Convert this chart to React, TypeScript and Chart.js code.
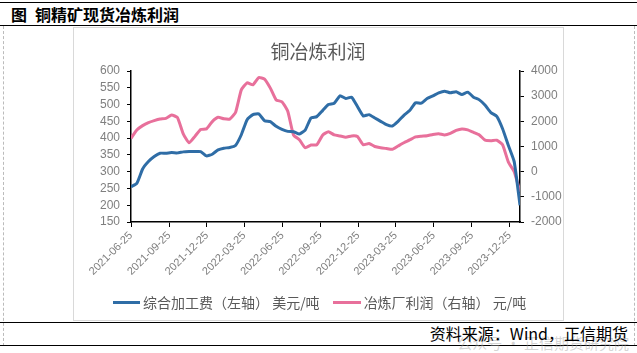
import React, { useEffect, useRef } from 'react';
import { Chart, registerables } from 'chart.js';
Chart.register(...registerables);

// ---- data ----
const START_DATE = '2021-06-25';
const END_DATE = '2024-01-19';
const STEP_DAYS = 14; // values read every two weeks from the start date

const TICK_DATES = [
  '2021-06-25', '2021-09-25', '2021-12-25', '2022-03-25', '2022-06-25', '2022-09-25',
  '2022-12-25', '2023-03-25', '2023-06-25', '2023-09-25', '2023-12-25',
];

// 综合加工费（左轴） 美元/吨
const PROCESSING_FEE = [
  255, 265, 308, 330, 345, 355, 355, 357, 356, 359,
  360, 360, 360, 347, 352, 365, 370, 372, 378, 410,
  455, 470, 472, 452, 449, 435, 426, 420, 419, 412,
  424, 460, 464, 482, 500, 504, 526, 518, 522, 494,
  466, 470, 460, 450, 440, 436, 450, 468, 482, 505,
  504, 518, 526, 535, 540, 535, 538, 530, 537, 522,
  514, 498, 476, 465, 428, 378, 330, 200,
];

// 冶炼厂利润（右轴） 元/吨
const SMELTER_PROFIT = [
  1326, 1656, 1830, 1950, 2030, 2093, 2120, 2250, 2150, 1500,
  1150, 1400, 1680, 1700, 1990, 2160, 2100, 2090, 2350, 3250,
  3530, 3450, 3740, 3680, 3320, 2850, 2780, 2400, 1450, 1270,
  950, 1060, 1070, 1450, 1590, 1460, 1418, 1370, 1420, 1400,
  1070, 1120, 1000, 950, 920, 890, 1020, 1150, 1260, 1380,
  1410, 1430, 1480, 1510, 1460, 1520, 1640, 1700, 1660, 1560,
  1460, 1250, 1230, 1250, 1070, 380, 0, -800,
];

const SERIES_NAMES = ['综合加工费（左轴） 美元/吨', '冶炼厂利润（右轴） 元/吨'];
const LEFT_AXIS = { min: 150, max: 600, step: 50 };
const RIGHT_AXIS = { min: -2000, max: 4000, step: 1000 };

const COLORS = ['#2F6DA6', '#E8709B'];

const DAY_MS = 86400000;
const dayOf = (s: string) => Math.round((Date.parse(s) - Date.parse(START_DATE)) / DAY_MS);

export default function App() {
  const ref = useRef<HTMLCanvasElement | null>(null);

  useEffect(() => {
    document.body.style.margin = '0';
    const canvas = ref.current;
    if (!canvas) return;
    const tickDays = TICK_DATES.map(dayOf);
    const fee = PROCESSING_FEE.map((v, i) => ({ x: i * STEP_DAYS, y: v }));
    const profit = SMELTER_PROFIT.map((v, i) => ({ x: i * STEP_DAYS, y: v }));
    const tickFont = { family: '"Liberation Sans", Arial, sans-serif', size: 12 };

    const chart = new Chart(canvas, {
      type: 'line',
      data: {
        datasets: [
          {
            label: SERIES_NAMES[0],
            data: fee,
            yAxisID: 'y',
            borderColor: COLORS[0],
            backgroundColor: COLORS[0],
            borderWidth: 3,
            pointRadius: 0,
            tension: 0.15,
          },
          {
            label: SERIES_NAMES[1],
            data: profit,
            yAxisID: 'y1',
            borderColor: COLORS[1],
            backgroundColor: COLORS[1],
            borderWidth: 3,
            pointRadius: 0,
            tension: 0.15,
          },
        ],
      },
      options: {
        animation: false,
        responsive: false,
        maintainAspectRatio: false,
        layout: { padding: { top: 44, left: 0, right: 0, bottom: 0 } },
        plugins: { legend: { display: false }, tooltip: { enabled: false }, title: { display: false } },
        scales: {
          x: {
            type: 'linear',
            min: 0,
            max: dayOf(END_DATE),
            afterBuildTicks: (scale: any) => {
              scale.ticks = tickDays.map((v) => ({ value: v }));
            },
            afterFit: (scale: any) => {
              scale.height = 98;
            },
            ticks: {
              autoSkip: false,
              maxRotation: 45,
              minRotation: 45,
              padding: 2,
              color: '#7f7f7f',
              font: { family: '"Liberation Sans", Arial, sans-serif', size: 11 },
              callback: (_v: any, i: number) => TICK_DATES[i],
            },
            grid: { drawOnChartArea: false, color: '#000', tickLength: 5, lineWidth: 1 },
            border: { color: '#000', width: 1.5 },
          },
          y: {
            type: 'linear',
            position: 'left',
            min: LEFT_AXIS.min,
            max: LEFT_AXIS.max,
            afterFit: (scale: any) => {
              scale.width = 58;
            },
            ticks: {
              stepSize: LEFT_AXIS.step,
              autoSkip: false,
              color: '#7f7f7f',
              font: tickFont,
              padding: 7,
              callback: (v: any) => String(v),
            },
            grid: { drawOnChartArea: false, color: '#000', tickLength: 4 },
            border: { color: '#000', width: 1.5 },
          },
          y1: {
            type: 'linear',
            position: 'right',
            min: RIGHT_AXIS.min,
            max: RIGHT_AXIS.max,
            afterFit: (scale: any) => {
              scale.width = 43;
            },
            ticks: {
              stepSize: RIGHT_AXIS.step,
              autoSkip: false,
              color: '#7f7f7f',
              font: tickFont,
              padding: 7,
              callback: (v: any) => String(v),
            },
            grid: { drawOnChartArea: false, color: '#000', tickLength: 4 },
            border: { color: '#000', width: 1.5 },
          },
        },
      },
    } as any);
    return () => chart.destroy();
  }, []);

  const cjk = '"Noto Sans CJK SC", "Noto Sans", sans-serif';

  return (
    <div style={{ position: 'relative', width: 637, height: 353, background: '#fff', overflow: 'hidden', fontFamily: cjk }}>
      {/* top rules */}
      <div style={{ position: 'absolute', left: 0, top: 2, width: 637, height: 0, borderTop: '1.5px solid #000' }} />
      <div style={{ position: 'absolute', left: 0, top: 25, width: 637, height: 0, borderTop: '1.5px solid #000' }} />
      {/* side dashed lines */}
      <div style={{ position: 'absolute', left: 3, top: 26, width: 0, height: 320, borderLeft: '1px dashed #bbb' }} />
      <div style={{ position: 'absolute', left: 634, top: 26, width: 0, height: 320, borderLeft: '1px dashed #bbb' }} />
      {/* heading */}
      <div style={{ position: 'absolute', left: 11, top: 3, fontSize: 16, fontWeight: 700, color: '#000', lineHeight: '22px', whiteSpace: 'nowrap' }}>
        图<span style={{ marginLeft: 8 }}>铜精矿现货冶炼利润</span>
      </div>
      {/* chart frame */}
      <div style={{ position: 'absolute', left: 73, top: 27, width: 489, height: 292, border: '1px solid #d9d9d9' }} />
      <canvas ref={ref} width={490} height={293} style={{ position: 'absolute', left: 73, top: 27, width: 490, height: 293 }} />
      {/* chart title */}
      <div style={{ position: 'absolute', left: 73, width: 490, top: 39, textAlign: 'center', fontSize: 19, color: '#595959', lineHeight: '24px' }}>
        铜冶炼利润
      </div>
      {/* legend */}
      <div style={{ position: 'absolute', left: 113, top: 292, display: 'flex', alignItems: 'center', fontSize: 14, color: '#595959', lineHeight: '20px', whiteSpace: 'nowrap' }}>
        <span style={{ display: 'inline-block', width: 27, height: 3, background: COLORS[0], marginRight: 3 }} />
        <span>{SERIES_NAMES[0]}</span>
        <span style={{ display: 'inline-block', width: 28, height: 3, background: COLORS[1], marginLeft: 13, marginRight: 3 }} />
        <span>{SERIES_NAMES[1]}</span>
      </div>
      {/* bottom rules */}
      <div style={{ position: 'absolute', left: 0, top: 322, width: 637, height: 0, borderTop: '1.5px solid #000' }} />
      <div style={{ position: 'absolute', left: 0, top: 345, width: 637, height: 0, borderTop: '1.5px solid #000' }} />
      {/* watermark */}
      <div style={{ position: 'absolute', right: 8, top: 333, fontSize: 15, color: 'rgba(160,160,160,0.45)', whiteSpace: 'nowrap', lineHeight: '20px' }}>
        公众号 · 正信期货研究院
      </div>
      {/* source */}
      <div style={{ position: 'absolute', right: 9, top: 323, fontSize: 16, color: '#000', whiteSpace: 'nowrap', lineHeight: '20px' }}>
        资料来源：Wind，正信期货
      </div>
    </div>
  );
}
